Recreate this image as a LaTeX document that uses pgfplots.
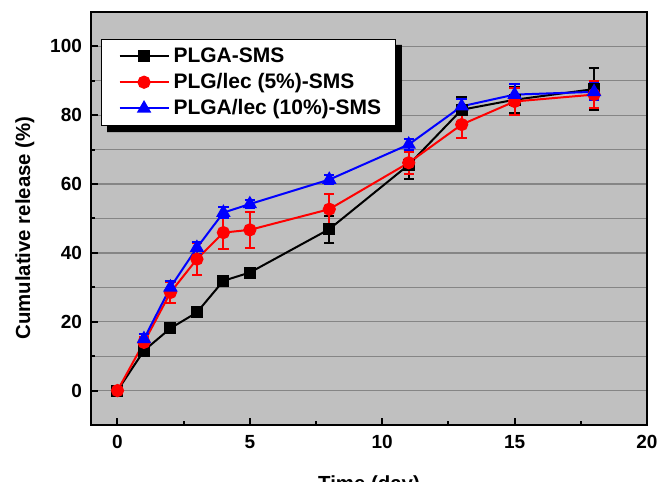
\documentclass[border=0pt]{standalone}
\usepackage{fontspec}
\setmainfont{Liberation Sans}
\usepackage{pgfplots}
\pgfplotsset{compat=1.18}
\definecolor{plotBg}{HTML}{C0C0C0}
\definecolor{gridGray}{HTML}{858585}

\begin{document}
\begin{tikzpicture}
\begin{axis}[
  scale only axis,
  width=278pt, height=206.5pt,
  xmin=-1, xmax=20, ymin=-10, ymax=110,
  xtick={0,5,...,20}, minor x tick num=1,
  ytick={0,20,...,100}, minor y tick num=1,
  xtick pos=bottom, ytick pos=left,
  major tick length=3.5pt, minor tick length=1.8pt,
  tick style={black, line width=1pt},
  axis line style={line width=1.2pt},
  axis background/.style={fill=plotBg},
  ymajorgrids, yminorgrids,
  major grid style={gridGray, line width=0.6pt},
  minor grid style={gridGray, line width=0.6pt},
  /pgf/number format/assume math mode=true,
  tick label style={font=\bfseries\fontsize{9.5}{11}\selectfont},
  yticklabel style={xshift=-1pt},
  xticklabel style={yshift=-1.5pt},
  xlabel={Time (day)},
  ylabel={Cumulative release (\%)},
  label style={font=\bfseries\fontsize{10.2}{12}\selectfont},
  xlabel style={at={(axis description cs:0.5,0)}, anchor=north, inner sep=0pt, yshift=-25pt},
  ylabel style={at={(axis description cs:-0.119,0.477)}, anchor=center, inner sep=0pt},
  legend cell align=left,
  legend style={name=leg, at={(0.018,0.935)}, anchor=north west, fill=white, draw=black,
    line width=0.6pt, font=\bfseries\fontsize{10.5}{12.5}\selectfont,
    inner xsep=5pt, inner ysep=2pt},
  legend image code/.code={%
    \path[draw=none] (0cm,0cm) -- (1.0cm,0cm);
    \draw[mark repeat=2, mark phase=2] plot coordinates {(0.14cm,0cm)(0.57cm,0cm)(1.0cm,0cm)};},
  error bars/error bar style={line width=1pt},
  error bars/error mark options={rotate=90, mark size=2.6pt, line width=1pt},
]
\coordinate (sw) at (rel axis cs:0,0);
\coordinate (ne) at (rel axis cs:1,1);

\addlegendimage{black, line width=1pt, mark=square*, mark size=2.5pt}
\addlegendentry{PLGA-SMS}
\addlegendimage{red, line width=1pt, mark=*, mark size=2.8pt}
\addlegendentry{PLG/lec (5\%)-SMS}
\addlegendimage{blue, line width=1pt, mark=triangle*, mark size=3.2pt}
\addlegendentry{PLGA/lec (10\%)-SMS}

\addplot[black, line width=1pt, mark=square*, mark size=2.5pt, forget plot,
  error bars/.cd, y dir=both, y explicit]
  coordinates {
    (0,0) +- (0,0)
    (1,11.6) +- (0,1.0)
    (2,18.1) +- (0,1.0)
    (3,22.7) +- (0,1.0)
    (4,31.9) +- (0,1.0)
    (5,34.3) +- (0,1.2)
    (8,46.9) +- (0,3.9)
    (11,65.6) +- (0,4.0)
    (13,81.6) +- (0,3.6)
    (15,84.5) +- (0,3.8)
    (18,87.6) +- (0,6.0)
  };

\addplot[red, line width=1pt, mark=*, mark size=2.8pt, forget plot,
  error bars/.cd, y dir=both, y explicit]
  coordinates {
    (0,0) +- (0,0)
    (1,14.0) +- (0,1.5)
    (2,28.5) +- (0,3.0)
    (3,38.2) +- (0,4.6)
    (4,45.9) +- (0,4.8)
    (5,46.7) +- (0,5.2)
    (8,52.7) +- (0,4.4)
    (11,66.2) +- (0,3.2)
    (13,77.3) +- (0,3.9)
    (15,84.0) +- (0,3.9)
    (18,86.0) +- (0,3.9)
  };

\addplot[blue, line width=1pt, mark=triangle*, mark size=3.2pt, forget plot,
  error bars/.cd, y dir=both, y explicit]
  coordinates {
    (1,15.0) +- (0,1.5)
    (2,30.0) +- (0,1.8)
    (3,41.5) +- (0,1.8)
    (4,51.7) +- (0,1.5)
    (5,54.2) +- (0,1.2)
    (8,61.3) +- (0,1.2)
    (11,71.5) +- (0,1.5)
    (13,82.6) +- (0,2.0)
    (15,86.0) +- (0,3.0)
    (18,86.8) +- (0,2.5)
  };
\end{axis}
% legend shadow (L-shaped strip right of and below the legend box)
\fill[black] ([shift={(3pt,0pt)}]leg.south west) -- ([shift={(3pt,-3pt)}]leg.south west)
  -- ([shift={(3pt,-3pt)}]leg.south east) -- ([shift={(3pt,-3pt)}]leg.north east)
  -- ([shift={(0pt,-3pt)}]leg.north east) -- (leg.south east) -- cycle;
\pgfresetboundingbox
\path[use as bounding box] ([shift={(-45.5pt,-28.5pt)}]sw) rectangle ([shift={(6pt,6pt)}]ne);
\end{tikzpicture}
\end{document}
